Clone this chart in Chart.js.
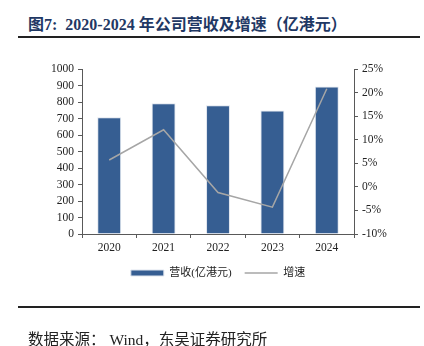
<!DOCTYPE html>
<html>
<head>
<meta charset="utf-8">
<script src="https://cdn.jsdelivr.net/npm/chart.js@4"></script>
<style>
    html, body { margin: 0; padding: 0; background: #fff; }
    .page { position: relative; width: 424px; height: 346px; overflow: hidden; }
    .title {
        position: absolute; left: 28px; top: 11px;
        font: bold 16px "Liberation Serif", "Noto Sans CJK SC", serif;
        color: #1f3864; white-space: nowrap;
    }
    .rule { position: absolute; left: 18px; width: 402px; height: 2px; background: #222; }
    .source {
        position: absolute; left: 28px; top: 327px;
        font: 15.5px "Liberation Serif", "Noto Sans CJK SC", serif;
        color: #222; white-space: nowrap;
    }
    #chart { position: absolute; left: 0; top: 0; }
</style>
</head>
<body>
<div class="page">
    <div class="title">图7:&nbsp; 2020-2024 年公司营收及增速（亿港元）</div>
    <div class="rule" style="top:36px"></div>
    <canvas id="chart" width="424" height="346"></canvas>
    <div class="rule" style="top:306px"></div>
    <div class="source">数据来源：&nbsp;Wind，东吴证券研究所</div>
</div>
<script>
// data
const years = ['2020', '2021', '2022', '2023', '2024'];
const revenue = [707, 793, 781, 749, 894];   // 营收(亿港元)
const growth = [5.7, 12.1, -1.2, -4.3, 20.8]; // 增速 %

const axisColor = '#595959';
const tickFont = { family: "'Liberation Serif', serif", size: 11.5 };

new Chart(document.getElementById('chart'), {
    type: 'bar',
    data: {
        labels: years,
        datasets: [
            {
                type: 'line',
                label: '增速',
                data: growth,
                yAxisID: 'y1',
                borderColor: '#a6a6a6',
                backgroundColor: '#a6a6a6',
                borderWidth: 1.5,
                pointRadius: 0,
                pointStyle: 'line',
                tension: 0,
                order: 0
            },
            {
                label: '营收(亿港元)',
                data: revenue,
                yAxisID: 'y',
                backgroundColor: '#365e92',
                borderColor: '#dfe5ee',
                borderWidth: 1,
                pointStyle: 'rect',
                categoryPercentage: 1,
                barPercentage: 0.44,
                order: 1
            }
        ]
    },
    options: {
        responsive: false,
        animation: false,
        layout: { padding: { top: 69, left: 0, right: 0, bottom: 57.5 } },
        plugins: {
            tooltip: { enabled: false },
            legend: {
                position: 'bottom',
                fullSize: false,
                reverse: true,
                labels: {
                    usePointStyle: true,
                    pointStyleWidth: 33,
                    boxHeight: 6,
                    padding: 13,
                    color: '#222',
                    font: { family: "'Liberation Serif', 'Noto Sans CJK SC', serif", size: 11 }
                }
            }
        },
        scales: {
            x: {
                grid: { drawOnChartArea: false, tickLength: 4, color: axisColor },
                border: { color: axisColor },
                ticks: { color: '#222', font: tickFont, padding: 3 },
                afterFit: scale => { scale.height = 20.5; }
            },
            y: {
                position: 'left',
                min: 0,
                max: 1000,
                grid: { drawOnChartArea: false, tickLength: 4, color: axisColor },
                border: { color: axisColor },
                ticks: { stepSize: 100, autoSkip: false, color: '#222', font: tickFont, padding: 4, callback: v => String(v) },
                afterFit: scale => { scale.width = 82; }
            },
            y1: {
                position: 'right',
                min: -10,
                max: 25,
                grid: { drawOnChartArea: false, tickLength: 4, color: axisColor },
                border: { color: axisColor },
                ticks: { stepSize: 5, autoSkip: false, color: '#222', font: tickFont, padding: 4, callback: v => v + '%' },
                afterFit: scale => { scale.width = 70; }
            }
        }
    }
});
</script>
</body>
</html>
